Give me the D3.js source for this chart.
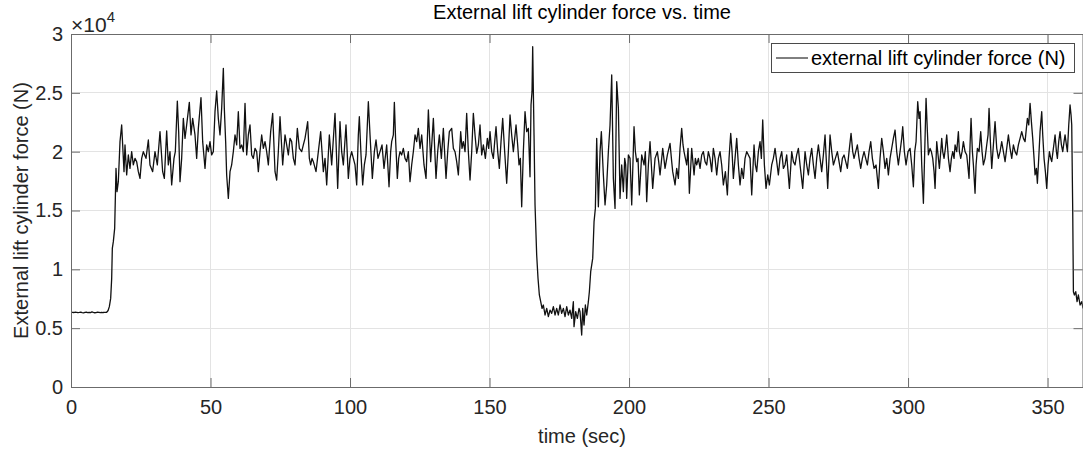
<!DOCTYPE html>
<html><head><meta charset="utf-8">
<script src="https://cdn.jsdelivr.net/npm/d3@7"></script>
<style>
body{margin:0;background:#fff}
svg text{font-family:"Liberation Sans",Arial,sans-serif}
</style>
</head><body>
<svg id="chart" width="1083" height="450"></svg>
<script>
const chartTitle = "External lift cylinder force vs. time";
const xLabel = "time (sec)";
const yLabel = "External lift cylinder force (N)";
const seriesName = "external lift cylinder force (N)";
const xTicks = [0, 50, 100, 150, 200, 250, 300, 350];
const yTicks = [0, 5000, 10000, 15000, 20000, 25000, 30000];
const yTickLabels = ["0", "0.5", "1", "1.5", "2", "2.5", "3"];
const xDomain = [0, 362.7];
const yDomain = [0, 30000];

const timeSec = [
0,0.5,1,1.5,2,2.5,3,3.5,4,4.5,5,5.5,6,6.5,7,7.5,8,8.5,9,9.5,10,10.5,11,11.5,12,12.78,
13.3,13.74,14.22,14.58,14.81,15.17,15.65,15.89,16.13,16.49,16.96,17.56,18.16,18.52,19.0,19.35,19.95,20.55,21.14,21.74,22.34,22.94,23.53,24.13,24.73,25.33,25.92,26.88,27.72,28.31,29.27,30.10,30.94,31.90,32.85,33.45,34.29,34.88,35.48,36.08,36.91,37.39,38.11,38.59,39.07,39.66,40.26,40.86,41.45,42.41,43.01,43.60,44.44,45.04,45.64,46.59,47.19,48.03,48.62,49.22,49.82,50.41,51.01,51.61,52.21,52.80,53.40,54.00,54.60,54.95,55.43,55.79,56.39,56.99,57.58,58.18,58.78,59.38,59.97,60.57,
61.17,61.77,62.37,62.96,63.56,64.16,64.76,65.35,65.95,66.55,67.14,67.74,68.34,68.94,69.53,70.13,70.73,71.56,72.28,73.12,73.71,74.31,74.91,75.87,76.70,77.30,77.90,78.49,79.09,79.69,80.29,81.12,81.84,82.68,83.27,83.87,84.83,85.42,85.90,86.38,86.86,87.81,88.65,89.48,90.44,91.04,91.64,92.59,93.43,94.62,95.58,96.41,97.01,97.61,98.56,99.40,99.99,100.59,101.19,101.79,102.39,102.98,103.34,103.94,104.54,105.13,105.73,106.57,107.17,108.00,108.72,109.32,110.03,110.75,111.47,112.18,113.14,113.98,114.57,114.93,115.53,115.89,116.37,116.96,117.44,117.92,118.52,119.11,119.71,120.31,120.91,
121.50,122.10,122.70,123.30,123.89,124.49,125.09,125.69,126.52,127.24,128.08,128.91,129.87,130.82,131.42,132.02,132.74,133.45,134.41,135.01,135.60,136.44,137.04,137.63,138.23,138.83,139.66,140.14,140.62,141.22,141.81,142.41,143.01,143.61,144.20,144.80,145.40,146.00,146.59,147.19,147.79,148.51,149.22,149.70,150.18,150.78,151.37,151.85,152.33,152.93,153.52,154.12,154.72,155.43,156.15,156.75,157.35,157.94,158.54,159.50,160.09,160.57,161.05,161.53,162.12,162.72,163.32,163.92,164.51,164.87,165.23,165.47,165.71,165.95,166.31,166.90,167.38,167.86,168.34,168.82,169.29,169.89,170.49,171.09,171.68,172.28,172.88,173.47,174.07,174.67,175.27,175.86,176.46,177.06,177.66,178.25,178.85,179.45,180.04,180.28,180.88,181.48,182.08,
182.44,183.03,183.39,183.87,184.35,184.83,185.42,185.78,186.26,186.98,187.46,187.93,188.41,189.01,189.61,190.08,190.80,191.40,191.99,192.59,193.19,193.79,194.38,194.98,195.58,196.18,196.77,197.37,197.97,198.45,198.80,199.16,199.76,200.36,200.96,201.79,202.27,202.75,203.22,203.70,204.54,205.38,205.85,206.33,206.93,207.53,208.00,208.48,209.32,210.15,210.63,211.11,212.07,212.90,213.74,214.69,215.29,215.65,216.49,217.08,217.68,218.28,218.87,219.35,219.71,220.19,220.67,221.15,221.62,222.46,223.30,223.77,224.25,224.85,225.45,226.04,226.64,227.24,227.84,228.43,229.03,229.63,230.22,230.82,231.42,232.02,232.61,233.21,233.81,234.53,235.24,235.84,236.44,236.92,237.39,237.99,238.59,239.19,239.78,240.38,240.98,241.57,242.17,242.77,243.37,
243.97,244.80,245.28,245.76,246.36,246.95,247.43,247.91,248.51,249.10,249.70,250.30,251.13,251.73,252.33,252.93,253.52,254.12,254.72,255.32,255.91,256.51,257.47,258.30,258.90,259.50,260.09,260.69,261.29,262.25,263.08,263.68,264.28,264.87,265.47,266.07,266.67,267.26,267.86,268.46,269.05,269.65,270.25,270.73,271.20,271.68,272.04,272.64,273.24,273.95,274.67,275.27,275.86,276.46,277.06,277.66,278.25,278.85,279.57,280.17,280.64,281.24,281.84,282.43,283.03,283.63,284.23,284.82,285.42,286.02,286.62,287.21,287.81,288.53,289.36,289.96,290.56,291.16,291.75,292.35,292.95,293.55,294.14,294.74,295.34,295.94,296.53,297.13,297.73,298.09,298.68,299.28,300.00,300.72,301.31,301.91,302.39,302.87,303.46,303.94,
304.30,304.90,305.50,305.97,306.45,306.93,307.29,307.89,308.36,308.84,309.32,309.68,310.27,310.75,311.23,311.71,312.07,312.43,312.90,313.38,313.86,314.46,315.05,315.53,316.01,316.49,316.85,317.44,318.04,318.40,318.88,319.36,319.83,320.43,321.03,321.39,321.86,322.22,322.58,323.06,323.42,324.01,324.37,324.85,325.45,326.04,326.52,327.00,327.60,328.19,328.67,329.03,329.51,329.99,330.58,331.18,331.78,332.38,332.97,333.57,334.17,334.77,335.36,335.96,336.56,337.16,337.75,338.35,338.95,339.54,340.14,340.74,341.34,341.93,342.77,343.25,343.73,344.20,344.68,345.16,345.52,346.00,346.35,346.83,347.31,347.91,348.27,348.74,349.22,349.70,350.18,350.66,351.13,351.49,352.09,352.69,353.17,353.52,354.00,354.48,354.96,355.44,355.91,356.27,356.75,357.11,357.59,358.06,358.42,358.66,359.02,359.26,359.62,360.10,360.57,361.05,361.65,362.24,362.72
];

const forceN = [
6350,6340,6330,6360,6350,6320,6340,6370,6330,6300,6340,6360,6330,6350,6320,6380,6340,6310,6330,6360,6340,6320,6350,6330,6340,6350,
6500,6830,7530,9230,11780,12350,13480,16030,18580,16600,17450,20850,22270,20570,18300,20570,18020,19720,18580,20000,18870,19430,19150,18300,17730,19430,20000,19430,20990,18870,18300,20000,18870,21700,18300,17730,21760,18870,20000,17170,19430,20000,24300,21700,17450,19430,22830,21130,22270,24190,21420,22830,21420,19430,21980,24590,20850,18580,20570,20000,20850,19720,20000,23400,25160,22830,21420,23680,27080,23680,20850,18020,16030,18300,18870,20000,21420,20570,23400,20280,
20570,20000,24110,19720,21420,22270,19720,19430,20280,20000,18300,20000,21420,20280,20850,20000,18870,21700,23260,18300,17590,20000,22970,18870,21420,20570,19720,21130,20850,19430,18870,21980,20280,20000,20570,21130,22550,19430,18870,19430,19150,18300,20000,21700,18300,19430,17170,21420,18870,23260,16880,22550,20000,18870,22270,17730,19430,20000,19430,18870,17170,21420,22970,19720,17170,18870,19720,24250,21420,17730,20000,20990,19430,20000,20570,18580,20570,17020,20000,20850,21420,24190,20850,17730,19430,20000,19720,20280,19430,19150,20000,
17450,18870,20000,21420,20850,21980,20280,21420,18870,17730,23540,19150,22830,17730,20000,21420,19430,21980,17730,20000,21700,21980,20280,20000,19150,18020,21700,20280,20850,20000,23260,20000,17590,20000,23260,21420,19860,20570,22270,19720,20570,19430,21130,20280,21700,20000,19430,20850,22120,20000,18580,20850,22830,20000,17310,20000,23120,21420,20000,22270,20570,18870,19430,15320,20000,23400,21700,21980,17870,23970,25100,28920,25100,21420,15470,11220,9230,7820,7250,6680,6970,6120,6680,5980,6540,6260,6830,6120,6680,6120,6970,6260,6680,5980,6830,6120,6540,5830,7250,5130,6400,5830,6680,
6400,4420,6680,5270,6970,6120,7250,8100,9800,10930,14050,15180,21130,15320,20000,21700,18020,15470,17170,20000,22270,26520,17730,15180,25950,23680,16030,18870,16600,19430,18870,16030,19720,19430,15470,22120,20000,19150,19430,16320,19720,18870,20000,15750,18870,20850,18870,16880,19430,20000,19150,18020,20280,18580,19720,20710,19150,18300,17170,18580,17730,20280,21980,20570,20000,19430,18870,20280,16460,20280,18020,19430,18870,19430,18580,19720,20000,19150,18870,20000,19430,18300,20280,19430,18020,19430,20000,18870,17170,18300,16320,19430,21560,20000,17730,19430,21130,18870,17170,18580,17730,19430,20000,19720,19430,
16320,20570,18870,18300,20000,20850,19430,22690,18870,16880,18020,17170,18870,19430,20280,19150,18020,19430,20000,18580,18870,19720,16880,20000,19150,18870,19720,20280,18870,16880,20000,18870,18020,19430,20280,18870,17730,19430,20570,19430,18300,19720,21420,19150,16880,19430,21420,20000,18870,19430,20000,19150,18300,19430,19720,19150,18580,20000,21560,20000,19430,20000,20570,19430,18580,19430,20000,19430,18870,20000,20850,19430,18580,18870,16880,19430,21130,20000,18580,19430,18020,19430,20280,21130,21840,20000,18870,20000,21130,22120,20000,18870,20000,20280,18870,17020,20000,20850,24250,22830,
23400,18870,15610,20000,24530,21700,19720,20280,20000,19430,18300,16880,20850,19720,18580,20000,21130,20000,19430,20280,21420,19430,18300,19430,20000,19430,20570,20000,21700,20000,19430,20000,20850,20000,19720,18870,17730,20570,22830,20000,18870,16460,18870,20280,20000,21700,20000,18870,19430,20570,21420,23680,20850,18580,20570,22550,20280,19430,20000,20850,20000,19150,20280,21420,20280,19430,20570,20000,19720,20570,21130,21700,21130,20850,22830,22270,24110,22550,21130,19430,18020,18580,17310,19430,21700,23400,21420,19430,18300,16880,18870,20000,19430,19150,20280,21420,20000,19430,20850,21700,20570,20000,20850,21420,20570,20000,22270,23970,23120,22270,14900,8100,7820,8100,7250,7820,6970,7250,6680
];

const W = 1083, H = 450;
const plot = {left: 71, right: 1083, top: 34, bottom: 387};
const svg = d3.select("#chart");
const x = d3.scaleLinear().domain(xDomain).range([plot.left, plot.right]);
const y = d3.scaleLinear().domain(yDomain).range([plot.bottom, plot.top]);
const axisColor = "#6b6b6b", textColor = "#262626", gridColor = "#e3e3e3";
const fs = 20;

svg.append("rect").attr("x",0).attr("y",0).attr("width",W).attr("height",H).attr("fill","#fff");

// grid
const grid = svg.append("g");
grid.selectAll("line.gx").data(xTicks.filter(d => d > 0)).join("line")
  .attr("x1", d => x(d)).attr("x2", d => x(d)).attr("y1", plot.top).attr("y2", plot.bottom)
  .attr("stroke", gridColor).attr("stroke-width", 1).attr("shape-rendering","crispEdges");
grid.selectAll("line.gy").data(yTicks.filter(d => d > 0 && d < 30000)).join("line")
  .attr("y1", d => y(d)).attr("y2", d => y(d)).attr("x1", plot.left).attr("x2", plot.right)
  .attr("stroke", gridColor).attr("stroke-width", 1).attr("shape-rendering","crispEdges");

// data line
const data = timeSec.map((t, i) => [t, forceN[i]]);
svg.append("clipPath").attr("id","clip").append("rect")
  .attr("x", plot.left).attr("y", plot.top).attr("width", plot.right - plot.left).attr("height", plot.bottom - plot.top);
svg.append("path").datum(data)
  .attr("clip-path","url(#clip)")
  .attr("fill","none").attr("stroke","#111").attr("stroke-width",1.3).attr("stroke-linejoin","round")
  .attr("d", d3.line().x(d => x(d[0])).y(d => y(d[1])));

// axes
function styleAxis(g){
  g.selectAll(".domain").attr("stroke", axisColor).attr("stroke-width",1);
  g.selectAll(".tick line").attr("stroke", axisColor).attr("stroke-width",1);
  g.selectAll(".tick text").attr("fill", textColor).style("font-size", fs + "px")
    .style("font-family", '"Liberation Sans", Arial, sans-serif');
}
const gx = svg.append("g").attr("transform", `translate(0,${plot.bottom})`)
  .call(d3.axisBottom(x).tickValues(xTicks).tickFormat(d3.format("d")).tickSizeInner(-9).tickSizeOuter(0).tickPadding(13));
styleAxis(gx);
const gxt = svg.append("g").attr("transform", `translate(0,${plot.top})`)
  .call(d3.axisTop(x).tickValues(xTicks).tickFormat("").tickSizeInner(-9).tickSizeOuter(0));
styleAxis(gxt);
const gy = svg.append("g").attr("transform", `translate(${plot.left},0)`)
  .call(d3.axisLeft(y).tickValues(yTicks).tickFormat((d,i) => yTickLabels[i]).tickSizeInner(-9).tickSizeOuter(0).tickPadding(8));
styleAxis(gy);
const gyr = svg.append("g").attr("transform", `translate(${plot.right - 0.5},0)`)
  .call(d3.axisRight(y).tickValues(yTicks).tickFormat("").tickSizeInner(-9).tickSizeOuter(0));
styleAxis(gyr);

// exponent label
const expo = svg.append("text").attr("x", plot.left).attr("y", 32).attr("fill", textColor);
expo.append("tspan").style("font-size","21px").text("\u00d710");
expo.append("tspan").attr("dy", -10).style("font-size","15px").text("4");

// title
svg.append("text").attr("x", (plot.left + plot.right) / 2 + 5).attr("y", 19).attr("text-anchor","middle")
  .attr("fill", "#000").style("font-size", "20px").text(chartTitle);
// x label
svg.append("text").attr("x", (plot.left + plot.right) / 2 + 5).attr("y", 443).attr("text-anchor","middle")
  .attr("fill", textColor).style("font-size", "20px").text(xLabel);
// y label
svg.append("text").attr("transform", `translate(28,${(plot.top + plot.bottom) / 2}) rotate(-90)`)
  .attr("text-anchor","middle").attr("fill", textColor).style("font-size", "20px").text(yLabel);

// legend
const lg = svg.append("g");
lg.append("rect").attr("x", 771.5).attr("y", 43.5).attr("width", 303).attr("height", 29)
  .attr("fill","#fff").attr("stroke","#4a4a4a").attr("stroke-width",1);
lg.append("line").attr("x1", 776).attr("x2", 808).attr("y1", 58).attr("y2", 58)
  .attr("stroke","#000").attr("stroke-width",1);
lg.append("text").attr("x", 811).attr("y", 65).attr("fill","#000").style("font-size", fs + "px").text(seriesName);
</script>
</body></html>
